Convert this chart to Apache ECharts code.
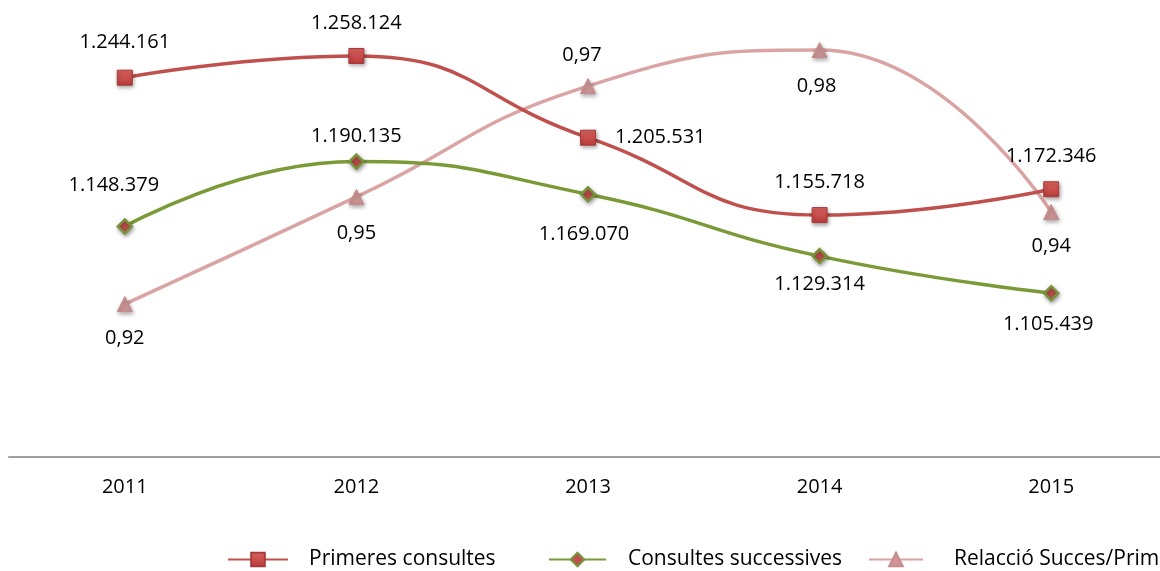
<!DOCTYPE html>
<html>
<head>
<meta charset="utf-8">
<script src="https://cdn.jsdelivr.net/npm/echarts@6/dist/echarts.min.js"></script>
<style>
  html, body { margin: 0; padding: 0; background: #fff; }
  #chart { width: 1160px; height: 571px; }
</style>
</head>
<body>
<div id="chart"></div>
<script>
// dades
const years = ["2011", "2012", "2013", "2014", "2015"];
const primeres = [1244161, 1258124, 1205531, 1155718, 1172346];
const successives = [1148379, 1190135, 1169070, 1129314, 1105439];
const relacio = [0.9227, 0.9456, 0.9693, 0.977, 0.9424];
const seriesNames = ["Primeres consultes", "Consultes successives", "Relacció Succes/Prim"];

// label placement per point: [position, distance, dx]
const redLabels = [["top", 17, 0], ["top", 15, 0], ["right", 19, 0], ["top", 15, 0], ["top", 15, 0]];
const greenLabels = [["top", 23, -11], ["top", 7, 0], ["bottom", 22, -4], ["bottom", 10, 0], ["bottom", 13, -3]];
const pinkLabels = [["bottom", 16, 0], ["bottom", 18, 0], ["top", 13, -6], ["bottom", 18, -3], ["bottom", 16, 0]];

const FONT = "Open Sans";

function thousands(v) {
    return String(v).replace(/\B(?=(\d{3})+(?!\d))/g, ".");
}

function withLabels(values, layout) {
    return values.map((v, i) => ({
        value: v,
        label: {
            position: layout[i][0],
            distance: layout[i][1],
            offset: [layout[i][2], 0],
        },
    }));
}

const markerShadow = {
    shadowBlur: 4,
    shadowColor: "rgba(0,0,0,0.35)",
    shadowOffsetX: 1,
    shadowOffsetY: 2,
};

const legendText = { fontFamily: FONT, fontSize: 21, color: "#000" };

const chart = echarts.init(document.getElementById("chart"));
const option = {
    animation: false,
    grid: { left: 9, right: -7, top: 22, bottom: 114, outerBoundsMode: "none", containLabel: false },
    legend: [
        {
            data: [seriesNames[0]], left: 222, top: 544,
            itemWidth: 60, itemHeight: 17,
            textStyle: Object.assign({ padding: [0, 0, 0, 16] }, legendText),
        },
        {
            data: [seriesNames[1]], left: 543, top: 544,
            itemWidth: 57, itemHeight: 17,
            textStyle: Object.assign({ padding: [0, 0, 0, 17] }, legendText),
        },
        {
            data: [seriesNames[2]], left: 863, top: 544,
            itemWidth: 54, itemHeight: 17,
            textStyle: Object.assign({ padding: [0, 0, 0, 26] }, legendText),
        },
    ],
    xAxis: {
        type: "category",
        data: years,
        axisLine: { lineStyle: { color: "#a0a0a0", width: 2 } },
        axisTick: { show: false },
        axisLabel: { fontFamily: FONT, fontSize: 20, color: "#000", margin: 20 },
    },
    yAxis: [
        { type: "value", min: 1000000, max: 1280000, show: false },
        { type: "value", min: 0.89, max: 0.983, show: false },
    ],
    series: [
        {
            name: seriesNames[0],
            type: "line",
            smooth: 0.5,
            yAxisIndex: 0,
            data: withLabels(primeres, redLabels),
            symbol: "rect",
            symbolSize: 15,
            lineStyle: { color: "#c0504d", width: 3.5 },
            itemStyle: Object.assign({
                color: new echarts.graphic.LinearGradient(0, 0, 0, 1, [
                    { offset: 0, color: "#dd6461" },
                    { offset: 1, color: "#b83c39" },
                ]),
                borderColor: "#a83b38",
                borderWidth: 1,
            }, markerShadow),
            label: {
                show: true,
                fontFamily: FONT, fontSize: 20, color: "#000",
                formatter: (p) => thousands(p.value),
            },
            z: 3,
        },
        {
            name: seriesNames[1],
            type: "line",
            smooth: 0.5,
            yAxisIndex: 0,
            data: withLabels(successives, greenLabels),
            symbol: "diamond",
            symbolSize: 14,
            lineStyle: { color: "#7a9a38", width: 3.5 },
            itemStyle: Object.assign({
                color: "#c0504d",
                borderColor: "#77933c",
                borderWidth: 2.5,
            }, markerShadow),
            label: {
                show: true,
                fontFamily: FONT, fontSize: 20, color: "#000",
                formatter: (p) => thousands(p.value),
            },
            z: 2,
        },
        {
            name: seriesNames[2],
            type: "line",
            smooth: 0.5,
            yAxisIndex: 1,
            data: withLabels(relacio, pinkLabels),
            symbol: "triangle",
            symbolSize: 15,
            lineStyle: { color: "#d9a4a3", width: 3.5 },
            itemStyle: Object.assign({
                color: "#cc9594",
                borderColor: "#c48b8a",
                borderWidth: 1,
            }, markerShadow),
            label: {
                show: true,
                fontFamily: FONT, fontSize: 20, color: "#000",
                formatter: (p) => p.value.toFixed(2).replace(".", ","),
            },
            z: 1,
        },
    ],
};
chart.setOption(option);
</script>
</body>
</html>
